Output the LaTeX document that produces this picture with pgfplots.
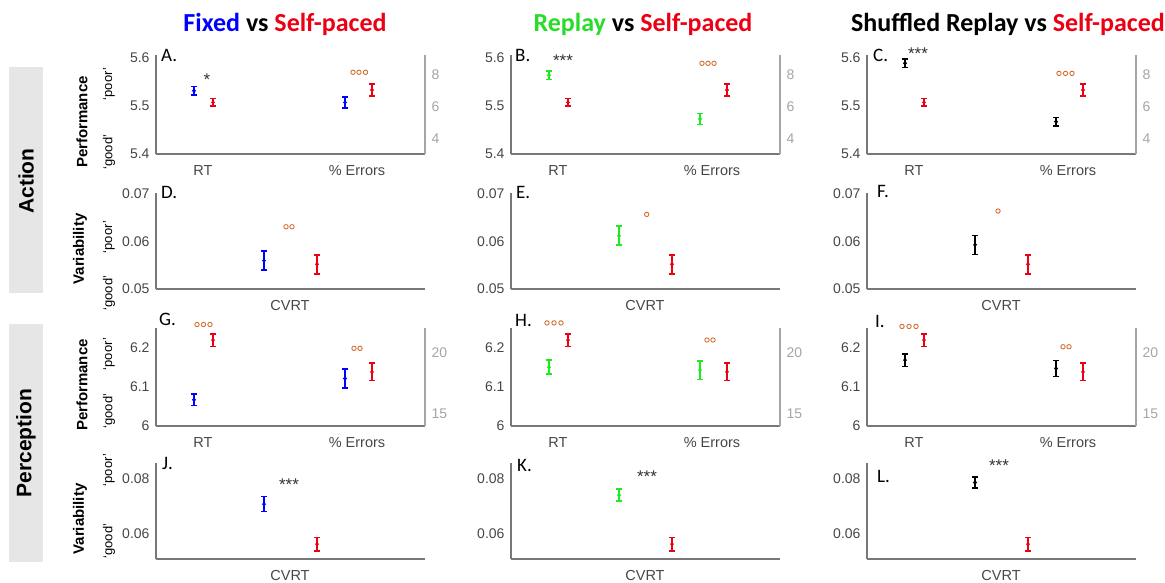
\documentclass[border=0pt]{standalone}
\usepackage{fontspec}
\setmainfont{Liberation Sans}
\newfontfamily\calib{Carlito}
\usepackage{pgfplots}
\pgfplotsset{compat=1.18}

\definecolor{cblue}{RGB}{0,0,255}
\definecolor{cred}{RGB}{235,0,20}
\definecolor{cgreen}{RGB}{30,235,30}
\definecolor{tgreen}{RGB}{40,220,40}
\definecolor{corange}{RGB}{210,110,50}
\definecolor{axgray}{RGB}{120,120,120}
\definecolor{tickgray}{RGB}{70,70,70}
\definecolor{rgray}{RGB}{165,165,165}
\definecolor{boxgray}{RGB}{230,230,230}

\pgfplotsset{
  panel/.style={scale only axis, width=269pt, xmin=0, xmax=269, clip=false,
    anchor=south west, major tick length=0pt, scaled y ticks=false},
  lpanel/.style={panel, axis x line*=bottom, axis y line*=left,
    axis line style={draw=axgray, line width=1.3pt},
    yticklabel style={font=\fontsize{14}{16}\selectfont, text=tickgray, xshift=-3pt},
    xticklabel style={font=\fontsize{14.5}{16}\selectfont, text=tickgray, yshift=-8pt}},
  rpanel/.style={panel, axis x line=none, axis y line*=right, xtick=\empty,
    axis line style={draw=rgray, line width=1.3pt},
    yticklabel style={font=\fontsize{14}{16}\selectfont, text=rgray, xshift=3pt}},
  ebar/.style={only marks, mark=*, mark size=1pt, line width=1.5pt,
    error bars/y dir=both, error bars/y explicit,
    error bars/error bar style={line width=1.6pt},
    error bars/error mark options={rotate=90, line width=1.6pt, mark size=3pt}},
  sig/.style={only marks, mark=o, mark size=2.2pt, color=corange,
    mark options={line width=0.9pt}},
  rt/.style={xtick={47,201}, xticklabels={RT,\% Errors}},
  cv/.style={xtick={134}, xticklabels={CVRT}},
  row1/.style={height=99pt, ymin=5.4, ymax=5.605, ytick={5.4,5.5,5.6}, yticklabels={5.4,5.5,5.6}},
  row1r/.style={height=99pt, ymin=3.06, ymax=9.25, ytick={4,6,8}, yticklabels={4,6,8}},
  row2/.style={height=96pt, ymin=0.05, ymax=0.0702, ytick={0.05,0.06,0.07}, yticklabels={0.05,0.06,0.07}},
  row3/.style={height=98pt, ymin=6, ymax=6.25, ytick={6,6.1,6.2}, yticklabels={6,6.1,6.2}},
  row3r/.style={height=98pt, ymin=14, ymax=22, ytick={15,20}, yticklabels={15,20}},
  row4/.style={height=96pt, ymin=0.0507, ymax=0.0856, ytick={0.06,0.08}, yticklabels={0.06,0.08}},
}

\begin{document}
\begin{tikzpicture}
\path[use as bounding box] (0pt,0pt) rectangle (1165pt,-582pt);

% row boxes
\fill[boxgray] (9pt,-67pt) rectangle (43pt,-293pt);
\fill[boxgray] (9pt,-324pt) rectangle (43pt,-562pt);
\node[rotate=90, font=\fontsize{21}{24}\selectfont\bfseries] at (26pt,-181pt) {Action};
\node[rotate=90, font=\fontsize{21}{24}\selectfont\bfseries] at (26pt,-443pt) {Perception};

% titles
\node[anchor=base, font=\calib\fontsize{26}{28}\selectfont\bfseries] at (285pt,-31pt)
  {\textcolor{cblue}{Fixed} vs \textcolor{cred}{Self-paced}};
\node[anchor=base, font=\calib\fontsize{26}{28}\selectfont\bfseries] at (643pt,-31pt)
  {\textcolor{tgreen}{Replay} vs \textcolor{cred}{Self-paced}};
\node[anchor=base, font=\calib\fontsize{26}{28}\selectfont\bfseries] at (1008pt,-31pt)
  {Shuffled Replay vs \textcolor{cred}{Self-paced}};

% y labels
\begin{scope}[every node/.style={rotate=90}]
\node[font=\fontsize{15}{17}\selectfont\bfseries] at (82pt,-122pt) {Performance};
\node[font=\fontsize{15}{17}\selectfont\bfseries] at (80pt,-249pt) {Variability};
\node[font=\fontsize{15}{17}\selectfont\bfseries] at (82pt,-385pt) {Performance};
\node[font=\fontsize{15}{17}\selectfont\bfseries] at (80pt,-519pt) {Variability};
\node[font=\fontsize{13}{15}\selectfont] at (109pt,-84pt) {‘poor’};
\node[font=\fontsize{13}{15}\selectfont] at (109pt,-152pt) {‘good’};
\node[font=\fontsize{13}{15}\selectfont] at (109pt,-237pt) {‘poor’};
\node[font=\fontsize{13}{15}\selectfont] at (109pt,-293pt) {‘good’};
\node[font=\fontsize{13}{15}\selectfont] at (109pt,-354pt) {‘poor’};
\node[font=\fontsize{13}{15}\selectfont] at (109pt,-411pt) {‘good’};
\node[font=\fontsize{13}{15}\selectfont] at (109pt,-470pt) {‘poor’};
\node[font=\fontsize{13}{15}\selectfont] at (109pt,-541pt) {‘good’};
\end{scope}

% ---------- row 1 ----------
\begin{axis}[lpanel, rt, row1, at={(156pt,-154pt)}]
\addplot[color=cblue, ebar] coordinates {(38,5.531) +- (0,0.0085)};
\addplot[color=cred, ebar] coordinates {(57,5.507) +- (0,0.008)};
\end{axis}
\begin{axis}[rpanel, row1r, at={(156pt,-154pt)}]
\addplot[color=cblue, ebar] coordinates {(189,6.29) +- (0,0.34)};
\addplot[color=cred, ebar] coordinates {(216,7.06) +- (0,0.37)};
\addplot[sig] coordinates {(197,8.17) (203,8.17) (209.5,8.17)};
\end{axis}

\begin{axis}[lpanel, rt, row1, at={(511pt,-154pt)}]
\addplot[color=cgreen, ebar] coordinates {(38,5.563) +- (0,0.009)};
\addplot[color=cred, ebar] coordinates {(57,5.507) +- (0,0.008)};
\end{axis}
\begin{axis}[rpanel, row1r, at={(511pt,-154pt)}]
\addplot[color=cgreen, ebar] coordinates {(189,5.25) +- (0,0.34)};
\addplot[color=cred, ebar] coordinates {(216,7.06) +- (0,0.37)};
\addplot[sig] coordinates {(191,8.73) (197,8.73) (203,8.73)};
\end{axis}

\begin{axis}[lpanel, rt, row1, at={(867pt,-154pt)}]
\addplot[color=black, ebar] coordinates {(38,5.588) +- (0,0.009)};
\addplot[color=cred, ebar] coordinates {(57,5.507) +- (0,0.008)};
\end{axis}
\begin{axis}[rpanel, row1r, at={(867pt,-154pt)}]
\addplot[color=black, ebar] coordinates {(189,5.08) +- (0,0.26)};
\addplot[color=cred, ebar] coordinates {(216,7.06) +- (0,0.37)};
\addplot[sig] coordinates {(192,8.1) (198.5,8.1) (205,8.1)};
\end{axis}

% ---------- row 2 ----------
\begin{axis}[lpanel, cv, row2, at={(156pt,-289pt)}]
\addplot[color=cblue, ebar] coordinates {(108,0.05596) +- (0,0.002)};
\addplot[color=cred, ebar] coordinates {(161,0.0552) +- (0,0.002)};
\addplot[sig] coordinates {(130,0.0631) (136,0.0631)};
\end{axis}
\begin{axis}[lpanel, cv, row2, at={(511pt,-289pt)}]
\addplot[color=cgreen, ebar] coordinates {(108,0.0612) +- (0,0.002)};
\addplot[color=cred, ebar] coordinates {(161,0.0552) +- (0,0.002)};
\addplot[sig] coordinates {(135.7,0.0657)};
\end{axis}
\begin{axis}[lpanel, cv, row2, at={(867pt,-289pt)}]
\addplot[color=black, ebar] coordinates {(108,0.0593) +- (0,0.002)};
\addplot[color=cred, ebar] coordinates {(161,0.0552) +- (0,0.002)};
\addplot[sig] coordinates {(131,0.0664)};
\end{axis}

% ---------- row 3 ----------
\begin{axis}[lpanel, rt, row3, at={(156pt,-426pt)}]
\addplot[color=cblue, ebar] coordinates {(38,6.067) +- (0,0.015)};
\addplot[color=cred, ebar] coordinates {(57,6.219) +- (0,0.016)};
\addplot[sig] coordinates {(41,6.259) (47.5,6.259) (54,6.259)};
\end{axis}
\begin{axis}[rpanel, row3r, at={(156pt,-426pt)}]
\addplot[color=cblue, ebar] coordinates {(189,17.88) +- (0,0.79)};
\addplot[color=cred, ebar] coordinates {(216,18.42) +- (0,0.72)};
\addplot[sig] coordinates {(198,20.34) (204,20.34)};
\end{axis}

\begin{axis}[lpanel, rt, row3, at={(511pt,-426pt)}]
\addplot[color=cgreen, ebar] coordinates {(38,6.15) +- (0,0.018)};
\addplot[color=cred, ebar] coordinates {(57,6.219) +- (0,0.016)};
\addplot[sig] coordinates {(36,6.263) (43,6.263) (50,6.263)};
\end{axis}
\begin{axis}[rpanel, row3r, at={(511pt,-426pt)}]
\addplot[color=cgreen, ebar] coordinates {(189,18.56) +- (0,0.76)};
\addplot[color=cred, ebar] coordinates {(216,18.42) +- (0,0.72)};
\addplot[sig] coordinates {(196,21.02) (202,21.02)};
\end{axis}

\begin{axis}[lpanel, rt, row3, at={(867pt,-426pt)}]
\addplot[color=black, ebar] coordinates {(38,6.168) +- (0,0.016)};
\addplot[color=cred, ebar] coordinates {(57,6.219) +- (0,0.016)};
\addplot[sig] coordinates {(35,6.254) (42,6.254) (49,6.254)};
\end{axis}
\begin{axis}[rpanel, row3r, at={(867pt,-426pt)}]
\addplot[color=black, ebar] coordinates {(189,18.70) +- (0,0.66)};
\addplot[color=cred, ebar] coordinates {(216,18.42) +- (0,0.72)};
\addplot[sig] coordinates {(196,20.47) (202,20.47)};
\end{axis}

% ---------- row 4 ----------
\begin{axis}[lpanel, cv, row4, at={(156pt,-559pt)}]
\addplot[color=cblue, ebar] coordinates {(108,0.07066) +- (0,0.0027)};
\addplot[color=cred, ebar] coordinates {(161,0.0561) +- (0,0.0024)};
\end{axis}
\begin{axis}[lpanel, cv, row4, at={(511pt,-559pt)}]
\addplot[color=cgreen, ebar] coordinates {(108,0.0739) +- (0,0.0022)};
\addplot[color=cred, ebar] coordinates {(161,0.0561) +- (0,0.0024)};
\end{axis}
\begin{axis}[lpanel, cv, row4, at={(867pt,-559pt)}]
\addplot[color=black, ebar] coordinates {(108,0.0785) +- (0,0.002)};
\addplot[color=cred, ebar] coordinates {(161,0.0561) +- (0,0.0024)};
\end{axis}

% panel letters
\begin{scope}[every node/.style={anchor=base west, inner sep=0pt, font=\calib\fontsize{19}{21}\selectfont}]
\node at (161pt,-61pt) {A.};
\node at (515pt,-61pt) {B.};
\node at (873pt,-61pt) {C.};
\node at (161pt,-198pt) {D.};
\node at (516pt,-198pt) {E.};
\node at (877pt,-197pt) {F.};
\node at (159pt,-325pt) {G.};
\node at (515pt,-326pt) {H.};
\node at (875pt,-327pt) {I.};
\node at (162pt,-469pt) {J.};
\node at (517pt,-471pt) {K.};
\node at (877pt,-482pt) {L.};
\end{scope}

% significance stars
\begin{scope}[every node/.style={font=\fontsize{17}{19}\selectfont, text=black!80, inner sep=0pt}]
\node at (207pt,-80pt) {*};
\node at (563pt,-61pt) {***};
\node at (918pt,-54pt) {***};
\node at (289pt,-485pt) {***};
\node at (647pt,-477pt) {***};
\node at (999pt,-466pt) {***};
\end{scope}
\end{tikzpicture}
\end{document}
